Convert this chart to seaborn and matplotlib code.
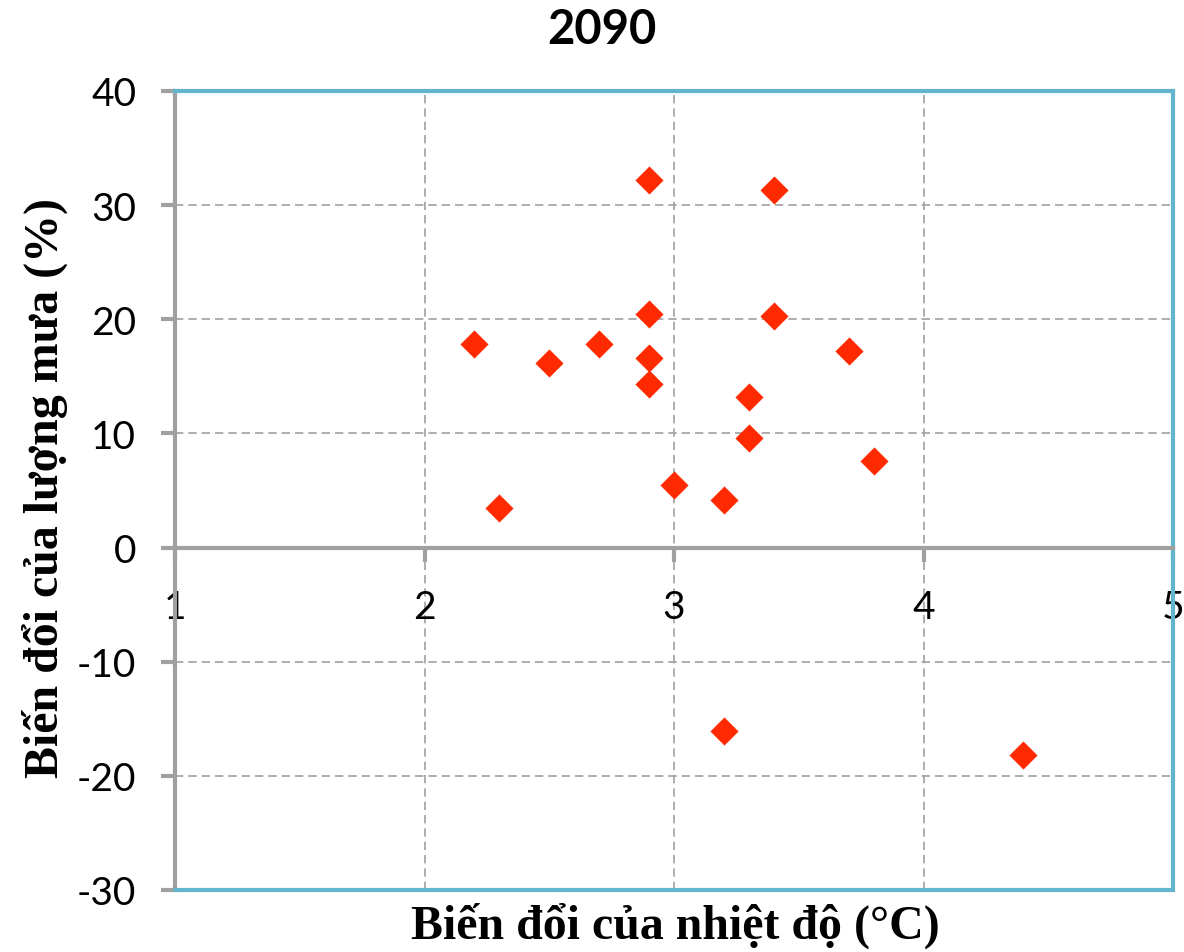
import matplotlib
matplotlib.use("Agg")
import matplotlib.pyplot as plt
import seaborn as sns
import pandas as pd

# Data
temp_change = [2.2, 2.3, 2.5, 2.7, 2.9, 2.9, 2.9, 2.9, 3.0, 3.2, 3.2, 3.3, 3.3, 3.4, 3.4, 3.7, 3.8, 4.4]
rain_change = [17.8, 3.5, 16.2, 17.8, 32.2, 20.5, 16.6, 14.3, 5.5, 4.2, -16.1, 13.2, 9.6, 31.3, 20.3, 17.2, 7.6, -18.2]
x_ticks = [1, 2, 3, 4, 5]
y_ticks = [-30, -20, -10, 0, 10, 20, 30, 40]
title = "2090"
x_label = "Biến đổi của nhiệt độ (°C)"
y_label = "Biến đổi của lượng mưa (%)"

df = pd.DataFrame({"temp": temp_change, "rain": rain_change})

sns.set_theme(style="white")
plt.rcParams["font.family"] = ["Lato", "DejaVu Sans"]
plt.rcParams["text.color"] = "black"

GRAY = "#a0a0a0"
BLUE = "#62b5cc"
RED = "#ff2a00"

fig = plt.figure(figsize=(11.84, 9.53), dpi=100)
ax = fig.add_axes([175 / 1184, 1 - 891 / 953, (1173 - 175) / 1184, (891 - 92) / 953])

sns.scatterplot(data=df, x="temp", y="rain", marker="D", s=205, color=RED,
                linewidth=0, ax=ax, zorder=5, clip_on=False)

ax.set_xlim(1, 5)
ax.set_ylim(-30, 40)
ax.set_xticks(x_ticks)
ax.set_yticks(y_ticks)
ax.set_xticklabels([str(v) for v in x_ticks])
ax.set_yticklabels([str(v) for v in y_ticks])

ax.grid(True, color=GRAY, linestyle=(0, (5, 3)), linewidth=1.2)
ax.set_axisbelow(True)

ax.spines["left"].set_color(GRAY)
ax.spines["left"].set_linewidth(3)
ax.spines["bottom"].set_position(("data", 0))
ax.spines["bottom"].set_color(GRAY)
ax.spines["bottom"].set_linewidth(3)
ax.spines["bottom"].set_zorder(3)
for s in ("top", "right"):
    ax.spines[s].set_color(BLUE)
    ax.spines[s].set_linewidth(3)
ax.axhline(-30, color=BLUE, linewidth=3, clip_on=False, zorder=3)

ax.tick_params(axis="both", which="major", direction="out", length=10, width=3,
               color=GRAY, labelsize=28, labelcolor="black", pad=18)
ax.tick_params(axis="x", bottom=True, pad=20)
ax.tick_params(axis="y", left=True)

ax.set_xlabel("")
ax.set_ylabel("")
fig.text(675 / 1184, 1 - 926 / 953, x_label, ha="center", va="center", color="black",
         fontsize=34.5, fontweight="bold", family=["Liberation Serif", "DejaVu Serif"])
fig.text(45 / 1184, 1 - 488 / 953, y_label, ha="center", va="center", rotation=90,
         color="black", fontsize=34.5, fontweight="bold",
         family=["Liberation Serif", "DejaVu Serif"])
fig.text(602 / 1184, 1 - 30 / 953, title, ha="center", va="center", color="black",
         fontsize=34, fontweight="bold")

fig.savefig("out.png", dpi=100)
